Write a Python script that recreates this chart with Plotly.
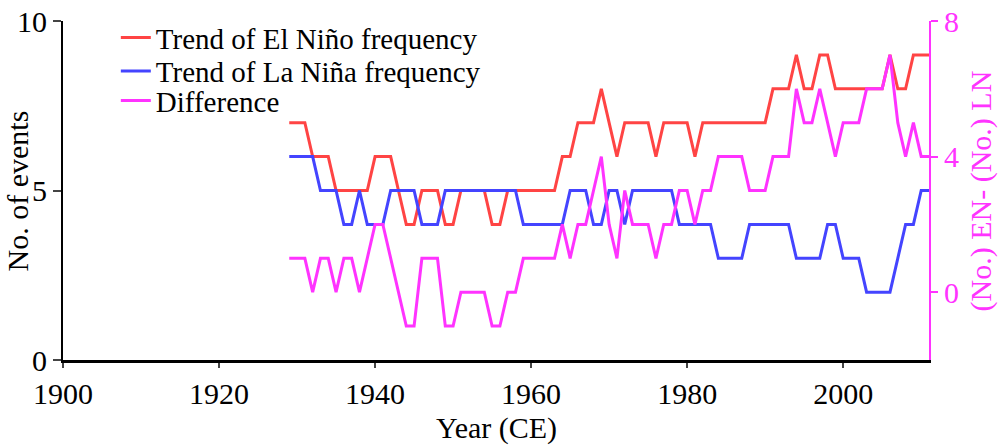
import plotly.graph_objects as go

years = list(range(1929, 2012))

el_nino = [7, 7, 7, 6, 6, 6, 5, 5, 5, 5, 5, 6, 6, 6, 5, 4, 4, 5, 5, 5,
           4, 4, 5, 5, 5, 5, 4, 4, 5, 5, 5, 5, 5, 5, 5, 6, 6, 7, 7, 7,
           8, 7, 6, 7, 7, 7, 7, 6, 7, 7, 7, 7, 6, 7, 7, 7, 7, 7, 7, 7,
           7, 7, 8, 8, 8, 9, 8, 8, 9, 9, 8, 8, 8, 8, 8, 8, 8, 9, 8, 8,
           9, 9, 9]

la_nina = [6, 6, 6, 6, 5, 5, 5, 4, 4, 5, 4, 4, 4, 5, 5, 5, 5, 4, 4, 4,
           5, 5, 5, 5, 5, 5, 5, 5, 5, 5, 4, 4, 4, 4, 4, 4, 5, 5, 5, 4,
           4, 5, 5, 4, 5, 5, 5, 5, 5, 5, 4, 4, 4, 4, 4, 3, 3, 3, 3, 4,
           4, 4, 4, 4, 4, 3, 3, 3, 3, 4, 4, 3, 3, 3, 2, 2, 2, 2, 3, 4,
           4, 5, 5]

difference = [1, 1, 1, 0, 1, 1, 0, 1, 1, 0, 1, 2, 2, 1, 0, -1, -1, 1, 1, 1,
              -1, -1, 0, 0, 0, 0, -1, -1, 0, 0, 1, 1, 1, 1, 1, 2, 1, 2, 2, 3,
              4, 2, 1, 3, 2, 2, 2, 1, 2, 2, 3, 3, 2, 3, 3, 4, 4, 4, 4, 3,
              3, 3, 4, 4, 4, 6, 5, 5, 6, 5, 4, 5, 5, 5, 6, 6, 6, 7, 5, 4,
              5, 4, 4]

x_ticks = [1900, 1920, 1940, 1960, 1980, 2000]
left_ticks = [0, 5, 10]
right_ticks = [0, 4, 8]

RED = "#FF4444"
BLUE = "#4444FF"
MAG = "#FF33FF"
FONT = "Liberation Serif"

fig = go.Figure()
fig.add_trace(go.Scatter(x=years, y=el_nino, mode="lines", name="Trend of El Niño frequency",
                         line=dict(color=RED, width=3), legend="legend"))
fig.add_trace(go.Scatter(x=years, y=la_nina, mode="lines", name="Trend of La Niña frequency",
                         line=dict(color=BLUE, width=3), legend="legend2"))
fig.add_trace(go.Scatter(x=years, y=difference, mode="lines", name="Difference",
                         line=dict(color=MAG, width=3), yaxis="y2", legend="legend3"))

leg_common = dict(xanchor="left", yanchor="middle", bgcolor="rgba(0,0,0,0)",
                  font=dict(family=FONT, size=29, color="black"), borderwidth=0)

fig.update_layout(
    width=1000, height=446,
    margin=dict(l=63, r=71, t=16, b=86),
    paper_bgcolor="white", plot_bgcolor="white",
    font=dict(family=FONT, size=30, color="black"),
    showlegend=True,
    legend=dict(x=0.061, y=0.951, **leg_common),
    legend2=dict(x=0.061, y=0.852, **leg_common),
    legend3=dict(x=0.061, y=0.765, **leg_common),
    xaxis=dict(range=[1900, 2011], tickvals=x_ticks, ticks="outside", ticklen=5, tickwidth=2,
               showline=True, linecolor="black", linewidth=3, showgrid=False, zeroline=False,
               automargin=False,
               tickfont=dict(family=FONT, size=30, color="black")),
    yaxis=dict(range=[0, 10], tickvals=left_ticks, ticks="outside", ticklen=8, tickwidth=2,
               showline=True, linecolor="black", linewidth=2, showgrid=False, zeroline=False,
               automargin=False,
               tickfont=dict(family=FONT, size=30, color="black")),
    yaxis2=dict(range=[-2, 8], tickvals=right_ticks, overlaying="y", side="right", anchor="x",
                ticks="outside", ticklen=7, tickwidth=2, tickcolor=MAG,
                showline=True, linecolor=MAG, linewidth=2, showgrid=False, zeroline=False,
                automargin=False,
                tickfont=dict(family=FONT, size=30, color=MAG)),
    annotations=[
        dict(text="No. of events", xref="paper", yref="paper", x=-0.052, y=0.5,
             xanchor="center", yanchor="middle", textangle=-90, showarrow=False,
             font=dict(family=FONT, size=30, color="black")),
        dict(text="(No.) EN- (No.) LN", xref="paper", yref="paper", x=1.060, y=0.5,
             xanchor="center", yanchor="middle", textangle=-90, showarrow=False,
             font=dict(family=FONT, size=30, color=MAG)),
        dict(text="Year (CE)", xref="paper", yref="paper", x=0.5, y=-0.2,
             xanchor="center", yanchor="middle", showarrow=False,
             font=dict(family=FONT, size=30, color="black")),
    ],
)

fig.write_html("out.html", config={"displayModeBar": False},
               post_script="document.body.style.margin='0';document.body.style.overflow='hidden';")
